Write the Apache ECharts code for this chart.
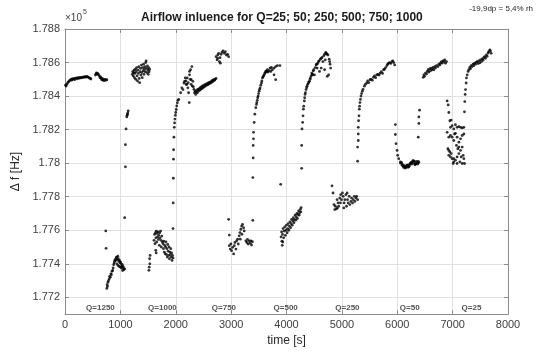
<!DOCTYPE html>
<html>
<head>
<meta charset="utf-8">
<script src="https://cdn.jsdelivr.net/npm/echarts@6/dist/echarts.min.js"></script>
<style>
  html, body { margin: 0; padding: 0; background: #fff; }
  #chart { width: 537px; height: 352px; }
</style>
</head>
<body>
<div id="chart"></div>
<script>
// each run: [time s, frequency Hz]
var seg1 = [
  [10,178465],[21,178460],[31,178470],[47,178478],[62,178485],[78,178490],[93,178495],[109,178500],
  [119,178495],[129,178502],[145,178500],[160,178505],[176,178498],[191,178505],[207,178508],[223,178503],
  [238,178510],[254,178506],[269,178512],[285,178508],[300,178512],[316,178510],[331,178515],[347,178512],
  [362,178516],[378,178513],[393,178518],[409,178514],[424,178512],[440,178508],[455,178505],[468,178502],
  [549,178525],[559,178532],[569,178538],[580,178530],[590,178535],[605,178528],[621,178520],[631,178510],
  [642,178515],[652,178505],[662,178498],[673,178505],[683,178495],[693,178500],[709,178492],[725,178500],
  [740,178495],[755,178498],
  [736,177596],[742,177492],[755,177253],[761,177275],[767,177265],[776,177290],[787,177300],[798,177310],
  [807,177325],[818,177320],[829,177340],[838,177335],[849,177355],[860,177360],[869,177375],[879,177395],
  [888,177405],[896,177415],[905,177425],[914,177420],[923,177435],[932,177440],[942,177425],[954,177445],
  [963,177430],[973,177415],[985,177420],[994,177405],[1004,177410],[1016,177400],[1025,177385],[1035,177395],
  [1047,177385],[1056,177375],[1066,177365],[1078,177370],[937,177400],[957,177390],[978,177385],[999,177380],
  [1019,177375],[1040,177360],
  [1078,177675],[1091,177978],[1091,178110],[1103,178204],[1116,178276],[1122,178285],[1128,178292],[1134,178300],[1141,178312]
];
var seg2 = [
  [1216,178530],[1223,178545],[1232,178520],[1240,178540],[1247,178555],[1254,178510],[1263,178535],[1271,178560],
  [1278,178500],[1285,178545],[1294,178570],[1302,178520],[1309,178490],[1317,178555],[1325,178535],[1333,178575],
  [1340,178505],[1348,178480],[1356,178545],[1364,178565],[1371,178525],[1380,178585],[1387,178540],[1395,178510],
  [1402,178570],[1410,178550],[1418,178590],[1426,178530],[1433,178560],[1441,178575],[1449,178545],[1457,178600],
  [1465,178610],[1472,178565],[1480,178540],[1488,178580],[1496,178555],[1503,178530],[1511,178570],[1519,178545],[1528,178560],
  [1515,177361],[1521,177380],[1528,177430],[1532,177400],[1537,177450],
  [1608,177540],[1617,177575],[1625,177520],[1633,177585],[1640,177555],[1648,177595],[1656,177530],[1664,177580],
  [1672,177560],[1679,177590],[1687,177545],[1695,177570],[1703,177510],[1710,177585],[1718,177555],[1726,177595],
  [1734,177540],[1739,177500],[1749,177565],[1760,177530],[1639,177480],[1646,177465],
  [1770,177520],[1778,177490],[1785,177535],[1793,177470],[1801,177510],[1809,177460],[1816,177500],[1824,177530],
  [1832,177455],[1840,177490],[1847,177440],[1855,177515],[1863,177475],[1871,177450],[1879,177500],[1886,177430],
  [1894,177470],[1902,177455],[1910,177490],[1917,177440],[1925,177465],[1933,177420],[1941,177450],[1951,177435],
  [1951,177610],[1953,177763],[1956,177910],[1959,178024],[1961,178080],[1967,178155],[1973,178214],[1979,178240],
  [1985,178263],[1992,178285],[1999,178302],[2008,178320],[2018,178341],[2029,178360],[2039,178375],[2052,178380],
  [2088,178420],[2111,178449],[2148,178478],[2171,178508],[2208,178508],[2249,178527],[2268,178557],[2291,178576],
  [2249,178547],[2279,178498],[2219,178449],[2244,178361],[2231,178420],[2309,178488],[2190,178469],[2130,178439],
  [2160,178488],[2184,178490],[2199,178470],[2225,178480],[2261,178500],[2277,178470],[2298,178460],[2318,178455],[2329,178440],
  [2339,178420],[2349,178430],[2360,178410],[2370,178425],[2381,178435],[2391,178420],[2401,178440],[2412,178430],
  [2422,178445],[2432,178435],[2443,178450],[2453,178440],[2463,178455],[2474,178445],[2484,178460],[2494,178450],
  [2505,178462],[2515,178455],[2525,178468],[2536,178460],[2546,178470],[2556,178465],[2567,178475],[2577,178468],
  [2588,178478],[2598,178472],[2608,178482],[2619,178476],[2629,178485],[2639,178480],[2650,178490],[2660,178485],
  [2670,178495],[2681,178490],[2691,178498],[2701,178495],[2712,178500],[2728,178505],
  [2728,178635],[2746,178616],[2758,178645],[2776,178655],[2788,178606],[2806,178596],[2818,178649],[2836,178661],
  [2853,178669],[2877,178655],[2896,178665],[2914,178645],[2937,178649],[2955,178635],[2758,178625],[2800,178629]
];
var seg3 = [
  [2955,177665],[2967,177571],[2967,177508],[2985,177488],[2997,177518],[3009,177478],[3027,177498],[3045,177459],
  [3057,177508],[3069,177527],[3087,177488],[3099,177537],[3117,177547],[3129,177518],[3146,177567],[3159,177586],
  [3176,177606],[3189,177625],[3206,177635],[3225,177615],[3236,177596],[3195,177576],[3165,177547],
  [3266,177537],[3284,177527],[3308,177518],[3326,177537],[3344,177523],[3368,177512],[3385,177532],[3296,177545],[3357,177537],
  [3392,177659],[3392,177914],[3398,178031],[3398,178106],[3404,178145],[3404,178184],[3416,178243],[3428,178292],
  [3446,178331],[3464,178361],[3488,178400],[3506,178429],[3524,178449],[3548,178478],[3566,178508],[3596,178527],
  [3626,178547],[3656,178557],[3686,178551],[3716,178547],[3745,178557],[3775,178567],[3805,178576],[3835,178582],
  [3882,178582],[3775,178527],[3805,178498],[3703,178567],[3667,178543],[3727,178571],
  [3457,178350],[3472,178375],[3480,178390],[3496,178415],[3514,178440],[3535,178465],[3555,178490],[3576,178515],
  [3586,178520],[3607,178535],[3617,178540],[3638,178550],[3643,178545]
];
var seg4 = [
  [3895,177874],[3902,177560],[3912,177590],[3917,177535],[3928,177575],[3938,177610],[3949,177555],[3959,177595],
  [3969,177620],[3980,177570],[3990,177600],[4000,177630],[4011,177585],[4021,177610],[4031,177640],[4042,177600],
  [4052,177625],[4062,177650],[4073,177615],[4083,177640],[4093,177665],[4104,177630],[4114,177655],[4124,177675],
  [4135,177645],[4145,177665],[4156,177690],[4166,177660],[4176,177680],[4187,177700],[4197,177670],[4207,177695],
  [4218,177715],[4228,177690],[4238,177705],[4249,177725],[4259,177710],[4264,177735],[3923,177510],[3933,177530],
  [4274,177969],[4274,178106],[4280,178204],[4292,178243],[4298,178282],[4305,178322],[4322,178371],[4335,178410],
  [4353,178439],[4371,178459],[4396,178478],[4432,178508],[4457,178537],[4493,178557],[4535,178586],[4578,178606],
  [4626,178625],[4675,178641],[4719,178655],[4749,178645],[4779,178606],[4797,178567],[4761,178527],[4736,178518],
  [4688,178557],[4626,178567],[4596,178547],[4658,178606],[4700,178616],[4505,178527],[4554,178567],[4414,178488],
  [4474,178527],[4311,178340],[4328,178390],[4342,178420],[4363,178450],[4383,178470],[4404,178485],[4425,178500],
  [4445,178520],[4466,178530],[4482,178550],[4518,178570],[4544,178590],[4564,178595],[4590,178610],[4611,178620],
  [4642,178630],[4689,178650],[4709,178660],[4730,178650],[4771,178620],[4787,178590]
];
var seg5 = [
  [4822,177865],[4840,177822],[4858,177753],[4871,177723],[4882,177743],[4901,177727],[4919,177733],[4931,177763],
  [4943,177743],[4962,177792],[4979,177812],[4992,177782],[5010,177822],[5023,177802],[5040,177763],[5053,177782],
  [5072,177812],[5083,177743],[5102,177782],[5114,177763],[5132,177802],[5144,177753],[5163,177772],[5175,177792],
  [5193,177763],[5205,177782],[5224,177802],[5235,177772],[5254,177792],[5266,177802],[5284,177782],[4913,177782],
  [4974,177763],[5034,177733],[5095,177822],
  [5284,178012],[5284,178096],[5296,178135],[5296,178174],[5296,178214],[5302,178253],[5309,178282],[5315,178322],
  [5327,178361],[5345,178400],[5370,178429],[5406,178459],[5448,178478],[5509,178498],[5570,178512],[5631,178527],
  [5691,178537],[5753,178557],[5814,178582],[5844,178596],[5905,178606],[5953,178586],
  [5423,178470],[5465,178490],[5486,178480],[5527,178500],[5548,178495],[5589,178520],[5610,178510],[5651,178530],
  [5672,178525],[5713,178545],[5734,178535],[5770,178560],[5791,178570],[5827,178590],[5863,178600],[5884,178595],
  [5920,178610],[5936,178600],[5382,178440],[5356,178415],[5335,178380],[5320,178340]
];
var seg6 = [
  [5966,178230],[5966,178171],[5978,178116],[5997,178076],[6008,178047],[6027,178027],[6057,178008],[6088,177988],
  [6060,178000],[6090,177994],[6120,177982],[6150,177978],[6180,177988],[6210,177978],[6240,178000],[6270,178008],
  [6300,178014],[6330,177994],[6360,178000],[6390,178004],[6075,178005],[6101,177985],[6112,177975],[6132,177985],
  [6143,177970],[6163,177975],[6174,177985],[6194,177975],[6205,177990],[6220,177985],[6231,177995],[6251,178005],
  [6262,177995],[6282,178015],[6293,178000],[6308,178010],[6319,177990],[6339,178000],[6350,178010],[6370,177995],[6381,178010],
  [6379,178155],[6390,178237],[6390,178276],[6403,178316],
  [6469,178512],[6480,178527],[6493,178518],[6510,178537],[6529,178531],[6541,178547],[6559,178557],[6571,178543],
  [6589,178563],[6601,178551],[6619,178567],[6631,178557],[6649,178571],[6661,178557],[6679,178576],[6691,178567],
  [6709,178582],[6734,178576],[6751,178590],[6769,178586],[6781,178598],[6799,178606],[6811,178596],[6829,178610],
  [6841,178606],[6859,178616],[6871,178596],[6890,178606]
];
var seg7 = [
  [6901,178371],[6920,178347],[6931,178302],[6950,178253],[6974,178257],
  [6901,178184],[6931,178155],[6961,178214],[6991,178223],[7021,178204],[7051,178229],[7081,178214],[7113,178218],
  [7143,178214],[7173,178210],[7203,178214],[6961,178165],[6991,178155],[7021,178135],[7051,178178],[7081,178155],
  [7113,178125],[7143,178145],[7173,178165],[7203,178174],[6914,178086],[6950,178067],[6961,178037],[6991,178027],
  [7021,178008],[7051,178018],[7081,178037],[7113,178057],[7143,178076],[7173,178096],[7190,178047],[7203,178027],
  [7173,177998],[7131,178008],[7081,177998],[7021,178027],[6974,178057],[6931,178076],[7069,178106],[7094,178086],
  [7155,178037],[6931,178047],[7010,177998],[7214,177998],[7113,178096],[7034,178174],
  [7214,178306],[7220,178367],[7226,178410],[7233,178439],[7244,178478],[7250,178508],[7263,178527],[7280,178547],[7293,178557],
  [7310,178571],[7323,178563],[7334,178582],[7353,178576],[7370,178590],[7383,178582],[7395,178596],[7413,178590],
  [7430,178602],[7443,178606],[7460,178594],[7473,178610],[7490,178598],[7503,178616],[7520,178606],[7533,178622],
  [7550,178614],[7563,178629],[7580,178635],[7593,178625],[7610,178645],[7623,178637],[7641,178657],[7653,178665],
  [7671,178675],[7683,178669],[7695,178655]
];

var qNames = ['Q=1250', 'Q=1000', 'Q=750', 'Q=500', 'Q=250', 'Q=50', 'Q=25'];
var qTimes = [640, 1760, 2870, 3985, 5100, 6225, 7340];
var qLevel = 177140;

var yTicks = [177200, 177400, 177600, 177800, 178000, 178200, 178400, 178600, 178800];

var chart = echarts.init(document.getElementById('chart'));

var dots = [seg1, seg2, seg3, seg4, seg5, seg6, seg7].map(function (d) {
  return {
    type: 'scatter',
    data: d,
    symbolSize: 2.8,
    itemStyle: { color: '#000' },
    silent: true
  };
});

dots.push({
  type: 'scatter',
  symbolSize: 0,
  data: qTimes.map(function (t, i) { return { value: [t, qLevel], name: qNames[i] }; }),
  label: {
    show: true,
    position: 'inside',
    formatter: '{b}',
    color: '#262626',
    fontSize: 8,
    fontWeight: 'bold',
    fontFamily: 'Liberation Sans'
  },
  silent: true
});

var axisGray = '#8c8c8c';
var gridGray = '#e0e0e0';
var labelColor = '#404040';

chart.setOption({
  animation: false,
  textStyle: { fontFamily: 'Liberation Sans' },
  grid: { left: 65, right: 29, top: 29, bottom: 36 },
  xAxis: [{
    type: 'value', min: 0, max: 8000, interval: 1000,
    name: 'time [s]', nameLocation: 'middle', nameGap: 20,
    nameTextStyle: { fontSize: 12, color: '#262626' },
    axisLine: { onZero: false, lineStyle: { color: axisGray } },
    axisTick: { inside: true, length: 4, lineStyle: { color: axisGray } },
    axisLabel: { fontSize: 11, color: labelColor, margin: 5, formatter: function (v) { return String(v); } },
    splitLine: { lineStyle: { color: gridGray } }
  }, {
    type: 'value', position: 'top', min: 0, max: 8000, interval: 1000,
    axisLine: { onZero: false, lineStyle: { color: axisGray } },
    axisTick: { inside: true, length: 4, lineStyle: { color: axisGray } },
    axisLabel: { show: false },
    splitLine: { show: false }
  }],
  yAxis: [{
    type: 'value', min: 177100, max: 178800,
    name: 'Δ f [Hz]', nameLocation: 'middle', nameGap: 38, nameRotate: 90,
    nameTextStyle: { fontSize: 12, color: '#262626' },
    axisLine: { show: true, onZero: false, lineStyle: { color: axisGray } },
    axisTick: { show: true, inside: true, length: 4, customValues: yTicks, lineStyle: { color: axisGray } },
    axisLabel: {
      fontSize: 11, color: labelColor, margin: 5, customValues: yTicks,
      formatter: function (v) { return String(parseFloat((v / 1e5).toFixed(3))); }
    },
    splitLine: { show: true, lineStyle: { color: gridGray } }
  }, {
    type: 'value', position: 'right', min: 177100, max: 178800,
    axisLine: { show: true, onZero: false, lineStyle: { color: axisGray } },
    axisTick: { show: true, inside: true, length: 4, customValues: yTicks, lineStyle: { color: axisGray } },
    axisLabel: { show: false },
    splitLine: { show: false }
  }],
  graphic: [
    { type: 'text', left: 141, top: 12,
      style: { text: 'Airflow inluence for Q=25; 50; 250; 500; 750; 1000', font: 'bold 12px "Liberation Sans"', fill: '#1a1a1a' } },
    { type: 'text', right: 4, top: 5,
      style: { text: '-19,9dp = 5,4% rh', font: '8px "Liberation Sans"', fill: '#262626' } },
    { type: 'text', left: 65, top: 13,
      style: { text: '×10', font: '10px "Liberation Sans"', fill: labelColor } },
    { type: 'text', left: 83, top: 9,
      style: { text: '5', font: '7px "Liberation Sans"', fill: labelColor } }
  ],
  series: dots
});
</script>
</body>
</html>
